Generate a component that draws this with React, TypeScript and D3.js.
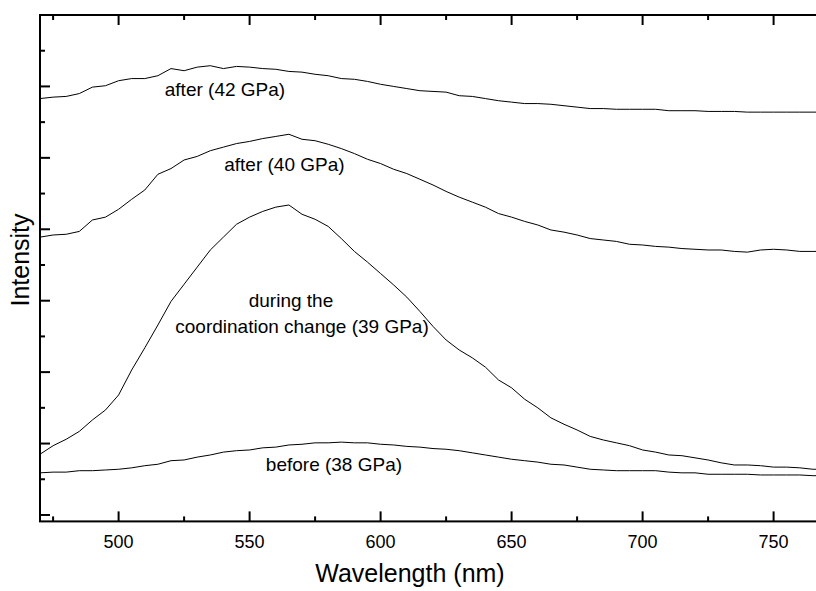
import React from 'react';
import * as d3 from 'd3';

const wavelengths = [470, 475, 480, 485, 490, 495, 500, 505, 510, 515, 520, 525, 530, 535, 540, 545, 550, 555, 560, 565, 570, 575, 580, 585, 590, 595, 600, 605, 610, 615, 620, 625, 630, 635, 640, 645, 650, 655, 660, 665, 670, 675, 680, 685, 690, 695, 700, 705, 710, 715, 720, 725, 730, 735, 740, 745, 750, 755, 760, 765, 770];

const after42 = [5.83, 5.85, 5.86, 5.90, 5.99, 6.01, 6.08, 6.11, 6.11, 6.15, 6.25, 6.22, 6.27, 6.29, 6.25, 6.28, 6.27, 6.25, 6.24, 6.21, 6.20, 6.17, 6.15, 6.11, 6.10, 6.07, 6.03, 6.00, 5.97, 5.94, 5.93, 5.92, 5.87, 5.86, 5.83, 5.80, 5.78, 5.76, 5.76, 5.75, 5.73, 5.71, 5.69, 5.69, 5.68, 5.68, 5.68, 5.68, 5.66, 5.66, 5.66, 5.65, 5.65, 5.65, 5.64, 5.64, 5.64, 5.64, 5.64, 5.64, 5.64];

const after40 = [3.89, 3.92, 3.93, 3.97, 4.13, 4.17, 4.28, 4.42, 4.55, 4.77, 4.85, 4.97, 5.02, 5.10, 5.15, 5.20, 5.23, 5.27, 5.30, 5.33, 5.26, 5.24, 5.19, 5.13, 5.06, 4.98, 4.92, 4.84, 4.78, 4.70, 4.62, 4.53, 4.45, 4.38, 4.31, 4.22, 4.17, 4.11, 4.06, 3.99, 3.96, 3.92, 3.87, 3.85, 3.83, 3.79, 3.78, 3.76, 3.75, 3.73, 3.72, 3.71, 3.71, 3.69, 3.68, 3.71, 3.72, 3.71, 3.69, 3.69, 3.69];

const during39 = [0.85, 0.97, 1.06, 1.17, 1.33, 1.47, 1.68, 2.03, 2.34, 2.66, 2.99, 3.23, 3.47, 3.71, 3.89, 4.07, 4.17, 4.25, 4.31, 4.34, 4.21, 4.14, 4.04, 3.87, 3.69, 3.54, 3.38, 3.22, 3.05, 2.85, 2.64, 2.45, 2.31, 2.20, 2.07, 1.89, 1.78, 1.62, 1.50, 1.36, 1.27, 1.19, 1.10, 1.05, 1.01, 0.97, 0.91, 0.88, 0.84, 0.83, 0.80, 0.77, 0.73, 0.70, 0.70, 0.69, 0.67, 0.67, 0.66, 0.64, 0.64];

const before38 = [0.59, 0.60, 0.60, 0.62, 0.62, 0.63, 0.64, 0.66, 0.69, 0.71, 0.76, 0.77, 0.81, 0.84, 0.88, 0.90, 0.91, 0.94, 0.95, 0.98, 0.99, 1.01, 1.01, 1.02, 1.01, 1.01, 0.99, 0.98, 0.96, 0.95, 0.93, 0.92, 0.90, 0.87, 0.84, 0.81, 0.78, 0.76, 0.74, 0.71, 0.70, 0.67, 0.64, 0.63, 0.62, 0.62, 0.62, 0.62, 0.60, 0.59, 0.59, 0.57, 0.57, 0.57, 0.57, 0.56, 0.56, 0.56, 0.56, 0.55, 0.55];

const seriesList = [after42, after40, during39, before38];

const xMajorTicks = [500, 550, 600, 650, 700, 750];
const xMinorTicks = [475, 525, 575, 625, 675, 725];
const yMajorTicks = [0, 1, 2, 3, 4, 5, 6, 7];
const yMinorTicks = [0.5, 1.5, 2.5, 3.5, 4.5, 5.5, 6.5];

const annotationTexts = ['after (42 GPa)', 'after (40 GPa)', 'during the', 'coordination change (39 GPa)', 'before (38 GPa)'];
const annotationX = [540.6, 563.3, 565.8, 570, 582.2];
const annotationY = [5.86, 4.82, 2.91, 2.55, 0.62];

const W = 816;
const H = 591;
const LEFT = 40;
const RIGHT = 826;
const TOP = 15;
const BOTTOM = 521.4;
const FONT = 'Liberation Sans, Arial, Helvetica, sans-serif';

export default function App() {
  const x = d3.scaleLinear().domain([470, 770]).range([LEFT, RIGHT]);
  const y = d3.scaleLinear().domain([-0.09, 7.0]).range([BOTTOM, TOP]);

  const line = d3
    .line<number>()
    .x((_, i) => x(wavelengths[i]))
    .y((d) => y(d));

  const major = 10;
  const minor = 5;

  return (
    <svg
      width={W}
      height={H}
      style={{ position: 'absolute', left: 0, top: 0, background: '#fff' }}
      fontFamily={FONT}
    >
      <rect x={0} y={0} width={W} height={H} fill="#fff" />
      {seriesList.map((s, i) => (
        <path key={i} d={line(s) || ''} fill="none" stroke="#000" strokeWidth={1} strokeLinejoin="round" />
      ))}

      {/* frame */}
      <rect x={LEFT} y={TOP} width={RIGHT - LEFT} height={BOTTOM - TOP} fill="none" stroke="#000" strokeWidth={2} />

      {/* x ticks bottom & top */}
      {xMajorTicks.map((t) => (
        <g key={'xM' + t}>
          <line x1={x(t)} x2={x(t)} y1={BOTTOM} y2={BOTTOM - major} stroke="#000" strokeWidth={2} />
          <line x1={x(t)} x2={x(t)} y1={TOP} y2={TOP + major} stroke="#000" strokeWidth={2} />
          <text x={x(t)} y={548} textAnchor="middle" fontSize={18} fill="#000">
            {t}
          </text>
        </g>
      ))}
      {xMinorTicks.map((t) => (
        <g key={'xm' + t}>
          <line x1={x(t)} x2={x(t)} y1={BOTTOM} y2={BOTTOM - minor} stroke="#000" strokeWidth={2} />
          <line x1={x(t)} x2={x(t)} y1={TOP} y2={TOP + minor} stroke="#000" strokeWidth={2} />
        </g>
      ))}

      {/* y ticks left & right */}
      {yMajorTicks.map((t) => (
        <g key={'yM' + t}>
          <line x1={LEFT} x2={LEFT + major} y1={y(t)} y2={y(t)} stroke="#000" strokeWidth={2} />
          <line x1={RIGHT} x2={RIGHT - major} y1={y(t)} y2={y(t)} stroke="#000" strokeWidth={2} />
        </g>
      ))}
      {yMinorTicks.map((t) => (
        <g key={'ym' + t}>
          <line x1={LEFT} x2={LEFT + minor} y1={y(t)} y2={y(t)} stroke="#000" strokeWidth={2} />
          <line x1={RIGHT} x2={RIGHT - minor} y1={y(t)} y2={y(t)} stroke="#000" strokeWidth={2} />
        </g>
      ))}

      {/* annotations */}
      {annotationTexts.map((t, i) => (
        <text key={t} x={x(annotationX[i])} y={y(annotationY[i])} textAnchor="middle" fontSize={19} fill="#000">
          {t}
        </text>
      ))}

      {/* axis titles */}
      <text x={410} y={582} textAnchor="middle" fontSize={25} fill="#000">
        Wavelength (nm)
      </text>
      <text transform="translate(29,260) rotate(-90)" textAnchor="middle" fontSize={25} fill="#000">
        Intensity
      </text>
    </svg>
  );
}
